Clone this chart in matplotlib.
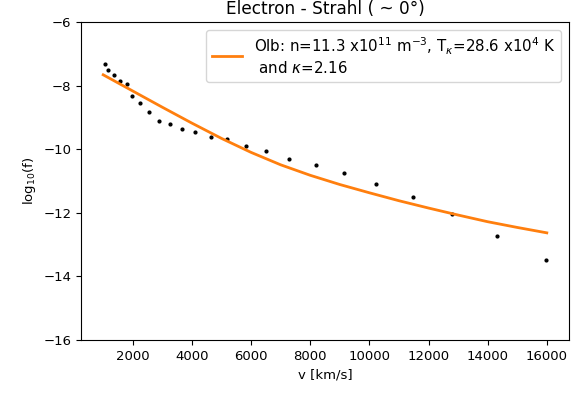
import matplotlib
matplotlib.use("Agg")
import matplotlib.pyplot as plt

# datos medidos (strahl)
v_dados = [1058, 1159, 1351, 1563, 1812, 1990, 2235, 2538, 2875, 3268, 3662,
           4109, 4637, 5175, 5824, 6497, 7281, 8179, 9155, 10241, 11465,
           12787, 14311, 15983]
logf_dados = [-7.32, -7.50, -7.68, -7.86, -7.96, -8.33, -8.56, -8.84, -9.11,
              -9.20, -9.35, -9.47, -9.63, -9.69, -9.90, -10.06, -10.30,
              -10.49, -10.76, -11.08, -11.51, -12.05, -12.74, -13.47]

# curva ajustada (kappa)
v_ajuste = [1000, 2000, 3000, 4000, 5000, 6000, 7000, 8000, 9000, 10000,
            11000, 12000, 13000, 14000, 15000, 16000]
logf_ajuste = [-7.66, -8.17, -8.68, -9.18, -9.66, -10.10, -10.49, -10.82,
               -11.11, -11.37, -11.62, -11.85, -12.07, -12.28, -12.46, -12.63]

rotulo = ('Olb: n=11.3 x10$^{11}$ m$^{-3}$, T$_{\\kappa}$=28.6 x10$^{4}$ K\n'
          ' and $\\kappa$=2.16')

fig = plt.figure(figsize=(5.8, 3.96), dpi=100)
ax = fig.add_axes([0.1397, 0.1414, 0.8413, 0.803])

ax.plot(v_dados, logf_dados, 'k.', markersize=4)
ax.plot(v_ajuste, logf_ajuste, color='C1', linewidth=2, label=rotulo)

ax.set_ylim(-16, -6)
ax.set_title('Electron - Strahl ( ~ 0°)', fontsize=12.2)
ax.set_xlabel('v [km/s]', fontsize=9.5)
ax.set_ylabel('log$_{10}$(f)', fontsize=9.5)
ax.tick_params(labelsize=9.5)
ax.legend(loc='upper right', fontsize=10.8)

fig.savefig('out.png', dpi=100)
